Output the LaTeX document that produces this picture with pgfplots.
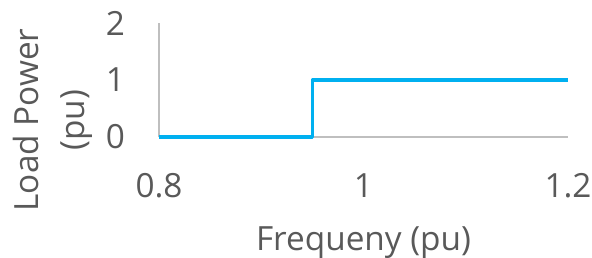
\documentclass[border=0pt]{standalone}
\usepackage{pgfplots}
\pgfplotsset{compat=1.18}
\usepackage{fontspec}
\setmainfont{Open Sans}
\definecolor{txt}{HTML}{595959}
\definecolor{ln}{HTML}{00B0F0}
\definecolor{ax}{HTML}{BFBFBF}
\begin{document}
\begin{tikzpicture}[x=0.75pt,y=0.75pt]
\useasboundingbox (-159,-120) rectangle (433,137);
\begin{axis}[
  at={(0,0)}, anchor=south west,
  scale only axis, width=306.75pt, height=85.5pt,
  xmin=0.8, xmax=1.2, ymin=0, ymax=2,
  axis x line=bottom, axis y line=left,
  axis line style={ax, line width=1pt, -},
  xtick={0.8,1,1.2}, ytick={0,1,2},
  xticklabels={0.8,1,1.2}, yticklabels={0,1,2},
  major tick length=0pt,
  /pgf/number format/assume math mode=true,
  tick label style={font=\fontsize{25}{30}\selectfont, text=txt},
  xticklabel style={yshift=-24pt},
  yticklabel style={xshift=-22pt},
  label style={font=\fontsize{25}{34.5}\selectfont, text=txt},
  xlabel={Frequeny (pu)},
  xlabel style={at={(axis description cs:0.5,-0.93)}, anchor=center},
  ylabel={Load Power\\(pu)},
  ylabel style={at={(axis description cs:-0.259,0.149)}, anchor=center, align=center},
  clip=false,
]
\addplot[ln, line width=2.4pt, line join=round] coordinates {(0.8,0) (0.95,0) (0.95,1) (1.2,1)};
\end{axis}
\end{tikzpicture}
\end{document}
